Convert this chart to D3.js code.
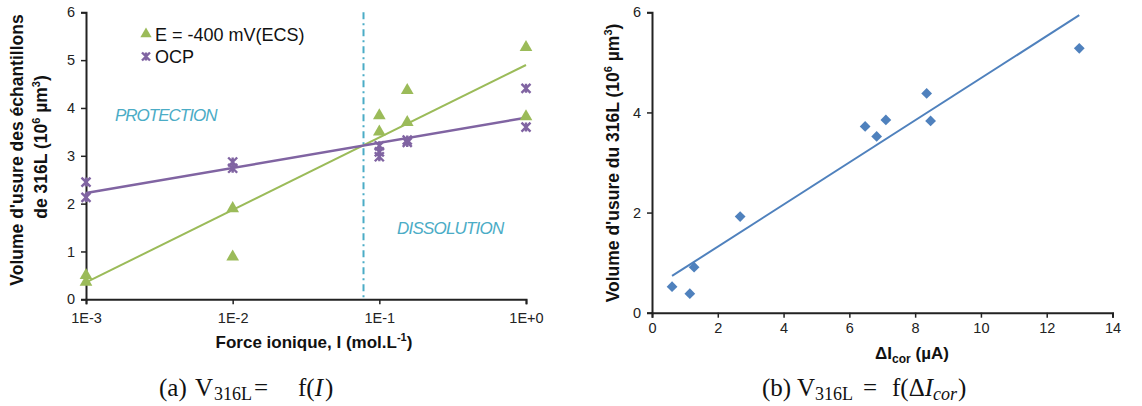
<!DOCTYPE html>
<html><head><meta charset="utf-8">
<script src="https://cdn.jsdelivr.net/npm/d3@7"></script>
<style>
body{margin:0;background:#fff;}
svg{display:block;}
text{font-family:"Liberation Sans",Arial,sans-serif;}
.tick text{font-size:14.5px;fill:#222;}
.cap{font-family:"Liberation Serif","Times New Roman",serif;font-size:25px;fill:#111;}
</style></head><body>
<svg id="c" width="1142" height="406"></svg>
<script>
// ---- data ----
const ionicE400 = [0.001, 0.001, 0.01, 0.01, 0.1, 0.1, 0.155, 0.155, 1, 1];
const volumeE400 = [0.52, 0.38, 1.92, 0.91, 3.86, 3.52, 4.39, 3.72, 5.29, 3.84];
const ionicOCP = [0.001, 0.001, 0.01, 0.01, 0.1, 0.1, 0.1, 0.155, 0.155, 1, 1];
const volumeOCP = [2.45, 2.13, 2.87, 2.74, 3.21, 3.08, 2.98, 3.33, 3.28, 4.41, 3.60];
const ionicLimit = [0.078];
const xTicksLeft = [0.001, 0.01, 0.1, 1];
const xTickLabelsLeft = ["1E-3", "1E-2", "1E-1", "1E+0"];
const yTicksLeft = [0, 1, 2, 3, 4, 5, 6];
const seriesNames = ["E = -400 mV(ECS)", "OCP"];
const zoneLabels = ["PROTECTION", "DISSOLUTION"];
const deltaIcor = [0.61, 1.15, 1.28, 2.68, 6.48, 6.83, 7.11, 8.35, 8.47, 12.99];
const volume316L = [0.52, 0.38, 0.91, 1.92, 3.72, 3.52, 3.85, 4.38, 3.83, 5.28];
const xTicksRight = [0, 2, 4, 6, 8, 10, 12, 14];
const yTicksRight = [0, 2, 4, 6];

const GREEN = "#9BBB59", PURPLE = "#8064A2", BLUE = "#4F81BD", CYAN = "#4BACC6", AX = "#222";

function linreg(xs, ys) {
  const n = xs.length, mx = d3.mean(xs), my = d3.mean(ys);
  let sxy = 0, sxx = 0;
  for (let i = 0; i < n; i++) { sxy += (xs[i]-mx)*(ys[i]-my); sxx += (xs[i]-mx)**2; }
  const b = sxy/sxx; return {b, a: my - b*mx};
}

const svg = d3.select("#c");

function styleAxis(g) {
  g.select(".domain").attr("stroke", AX).attr("stroke-width", 2);
  g.selectAll(".tick line").attr("stroke", AX).attr("stroke-width", 1.5);
  g.selectAll(".tick text").attr("font-family", "Liberation Sans, Arial, sans-serif");
}

// ---------- Left chart ----------
const xL = d3.scaleLog().domain([0.001, 1]).range([86, 526]);
const yL = d3.scaleLinear().domain([0, 6]).range([299.3, 12.3]);

const gxL = svg.append("g").attr("transform", `translate(0,${yL(0)})`)
  .call(d3.axisBottom(xL).tickValues(xTicksLeft).tickFormat((d,i)=>xTickLabelsLeft[i]).tickSizeOuter(0).tickSize(5).tickPadding(8));
styleAxis(gxL);
const gyL = svg.append("g").attr("transform", `translate(${xL(0.001)},0)`)
  .call(d3.axisLeft(yL).tickValues(yTicksLeft).tickFormat(d3.format("d")).tickSizeOuter(0).tickSize(5).tickPadding(6));
styleAxis(gyL);

// limit line
svg.append("line").attr("x1", xL(ionicLimit[0])).attr("x2", xL(ionicLimit[0]))
  .attr("y1", yL(6)).attr("y2", yL(0)).attr("stroke", CYAN).attr("stroke-width", 2)
  .attr("stroke-dasharray", "7,4,2,4");

// zone labels
svg.append("text").attr("x", 115).attr("y", 121).text(zoneLabels[0])
  .attr("fill", CYAN).attr("font-style", "italic").attr("font-size", "17px").attr("letter-spacing", "-1px");
svg.append("text").attr("x", 397).attr("y", 233.5).text(zoneLabels[1])
  .attr("fill", CYAN).attr("font-style", "italic").attr("font-size", "17px").attr("letter-spacing", "-0.8px");

// trend lines (log fit)
function logTrend(xs, ys, color, w) {
  const r = linreg(xs.map(Math.log10), ys);
  const ext = d3.extent(xs);
  svg.append("line").attr("x1", xL(ext[0])).attr("y1", yL(r.a + r.b*Math.log10(ext[0])))
    .attr("x2", xL(ext[1])).attr("y2", yL(r.a + r.b*Math.log10(ext[1])))
    .attr("stroke", color).attr("stroke-width", w);
}
logTrend(ionicE400, volumeE400, GREEN, 2);
logTrend(ionicOCP, volumeOCP, PURPLE, 2.5);

const tri = d3.symbol().type(d3.symbolTriangle).size(70);
function star(g, cx, cy, s) {
  const p = `M${cx-s},${cy-s}L${cx+s},${cy+s}M${cx-s},${cy+s}L${cx+s},${cy-s}M${cx},${cy-s}L${cx},${cy+s}`;
  g.append("path").attr("d", p).attr("stroke", PURPLE).attr("stroke-width", 2.4).attr("fill", "none");
}
svg.append("g").selectAll("path").data(ionicE400.map((x,i)=>[x, volumeE400[i]])).join("path")
  .attr("d", tri).attr("fill", GREEN)
  .attr("transform", d => `translate(${xL(d[0])},${yL(d[1])+1})`);
const gs = svg.append("g");
ionicOCP.forEach((x,i)=>star(gs, xL(x), yL(volumeOCP[i]), 4.5));

// legend
svg.append("path").attr("d", d3.symbol().type(d3.symbolTriangle).size(55)).attr("fill", GREEN)
  .attr("transform", "translate(146,34)");
star(svg, 146, 56.5, 4);
svg.append("text").attr("x", 155).attr("y", 41).attr("font-size", "18px").attr("fill", "#111").text(seriesNames[0]);
svg.append("text").attr("x", 155).attr("y", 63).attr("font-size", "18px").attr("fill", "#111").text(seriesNames[1]);

// axis titles left
const tx = svg.append("text").attr("x", 314).attr("y", 348).attr("text-anchor", "middle")
  .attr("font-size", "17px").attr("font-weight", "bold").attr("fill", "#111");
tx.append("tspan").text("Force ionique, I (mol.L");
tx.append("tspan").attr("font-size", "11px").attr("dy", -7).text("-1");
tx.append("tspan").attr("dy", 7).text(")");

svg.append("text").attr("transform", "translate(23,150) rotate(-90)")
  .attr("text-anchor", "middle").attr("font-size", "17.5px").attr("font-weight", "bold").attr("fill", "#111")
  .text("Volume d'usure des échantillons");
const ty2 = svg.append("text").attr("transform", "translate(47,147) rotate(-90)")
  .attr("text-anchor", "middle").attr("font-size", "17.5px").attr("font-weight", "bold").attr("fill", "#111");
ty2.append("tspan").text("de 316L (10");
ty2.append("tspan").attr("font-size", "11px").attr("dy", -7).text("6");
ty2.append("tspan").attr("dy", 7).text(" µm");
ty2.append("tspan").attr("font-size", "11px").attr("dy", -7).text("3");
ty2.append("tspan").attr("dy", 7).text(")");

// ---------- Right chart ----------
const xR = d3.scaleLinear().domain([0, 14]).range([652, 1112.5]);
const yR = d3.scaleLinear().domain([0, 6]).range([312.7, 12.3]);
const gxR = svg.append("g").attr("transform", `translate(0,${yR(0)})`)
  .call(d3.axisBottom(xR).tickValues(xTicksRight).tickFormat(d3.format("d")).tickSizeOuter(0).tickSize(5).tickPadding(5));
styleAxis(gxR);
const gyR = svg.append("g").attr("transform", `translate(${xR(0)},0)`)
  .call(d3.axisLeft(yR).tickValues(yTicksRight).tickFormat(d3.format("d")).tickSizeOuter(0).tickSize(5).tickPadding(6));
styleAxis(gyR);

const rr = linreg(deltaIcor, volume316L);
const exR = d3.extent(deltaIcor);
svg.append("line").attr("x1", xR(exR[0])).attr("y1", yR(rr.a + rr.b*exR[0]))
  .attr("x2", xR(exR[1])).attr("y2", yR(rr.a + rr.b*exR[1]))
  .attr("stroke", BLUE).attr("stroke-width", 2);

svg.append("g").selectAll("path").data(deltaIcor.map((x,i)=>[x, volume316L[i]])).join("path")
  .attr("d", d3.symbol().type(d3.symbolSquare).size(58)).attr("fill", BLUE)
  .attr("transform", d => `translate(${xR(d[0])},${yR(d[1])}) rotate(45)`);

const txr = svg.append("text").attr("x", 912).attr("y", 359).attr("text-anchor", "middle")
  .attr("font-size", "17px").attr("font-weight", "bold").attr("fill", "#111");
txr.append("tspan").text("ΔI");
txr.append("tspan").attr("font-size", "12px").attr("dy", 4).text("cor");
txr.append("tspan").attr("dy", -4).text(" (µA)");

const tyr = svg.append("text").attr("transform", "translate(619,163) rotate(-90)")
  .attr("text-anchor", "middle").attr("font-size", "17.5px").attr("font-weight", "bold").attr("fill", "#111");
tyr.append("tspan").text("Volume d'usure du 316L (10");
tyr.append("tspan").attr("font-size", "11px").attr("dy", -7).text("6");
tyr.append("tspan").attr("dy", 7).text(" µm");
tyr.append("tspan").attr("font-size", "11px").attr("dy", -7).text("3");
tyr.append("tspan").attr("dy", 7).text(")");

// captions
const CY = 396;
const ca = svg.append("text").attr("class", "cap").attr("y", CY);
ca.append("tspan").attr("x", 159).text("(a)");
ca.append("tspan").attr("x", 195).text("V");
ca.append("tspan").attr("x", 214).attr("y", CY + 4).attr("font-size", "18px").text("316L");
ca.append("tspan").attr("x", 254).attr("y", CY).text("=");
ca.append("tspan").attr("x", 298).text("f(");
ca.append("tspan").attr("font-style", "italic").text("I");
ca.append("tspan").attr("dx", 2).text(")");

const cb = svg.append("text").attr("class", "cap").attr("y", CY);
cb.append("tspan").attr("x", 762).text("(b)");
cb.append("tspan").attr("x", 797).text("V");
cb.append("tspan").attr("x", 815).attr("y", CY + 4).attr("font-size", "18px").text("316L");
cb.append("tspan").attr("x", 863).attr("y", CY).text("=");
cb.append("tspan").attr("x", 892).text("f(Δ");
cb.append("tspan").attr("font-style", "italic").text("I");
cb.append("tspan").attr("font-style", "italic").attr("font-size", "18px").attr("dy", 4).text("cor");
cb.append("tspan").attr("dy", -4).attr("dx", 1).text(")");
</script>
</body></html>
